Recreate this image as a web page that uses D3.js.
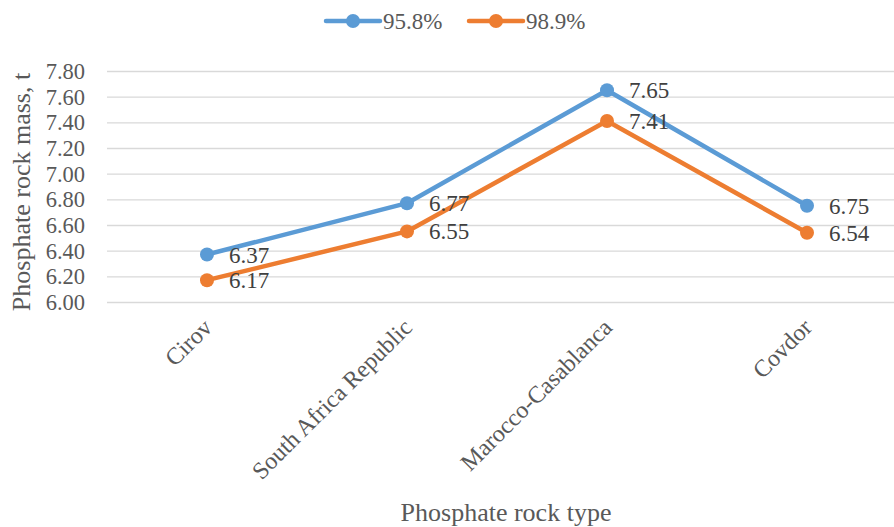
<!DOCTYPE html>
<html>
<head>
<meta charset="utf-8">
<script src="https://cdn.jsdelivr.net/npm/d3@7"></script>
<style>
  html, body { margin: 0; padding: 0; background: #fff; }
  svg { display: block; }
  svg text { font-family: "Liberation Serif", "Times New Roman", serif; }
</style>
</head>
<body>
<svg id="chart" width="894" height="527"></svg>
<script>
// Phosphate rock mass by rock type, for two purity levels
const categories = ["Cirov", "South Africa Republic", "Marocco-Casablanca", "Covdor"];
const seriesNames = ["95.8%", "98.9%"];
const series958 = [6.37, 6.77, 7.65, 6.75];
const series989 = [6.17, 6.55, 7.41, 6.54];
const yTicks = [6.00, 6.20, 6.40, 6.60, 6.80, 7.00, 7.20, 7.40, 7.60, 7.80];
const colors = ["#5B9BD5", "#ED7D31"];

const series = [
  { name: seriesNames[0], values: series958, color: colors[0] },
  { name: seriesNames[1], values: series989, color: colors[1] }
];

const svg = d3.select("#chart");
const plot = { left: 107, right: 907, top: 71, bottom: 302 };
const FONT = "22.5px";

const x = d3.scalePoint().domain(categories).range([plot.left, plot.right]).padding(0.5);
const y = d3.scaleLinear().domain([6.0, 7.8]).range([plot.bottom, plot.top]);

// Horizontal gridlines with tick labels
const yAxis = d3.axisLeft(y).tickValues(yTicks).tickFormat(d3.format(".2f")).tickSize(0).tickPadding(0);
const yg = svg.append("g").attr("transform", `translate(${plot.left},0)`).call(yAxis);
yg.attr("font-family", null).attr("font-size", null);
yg.select(".domain").remove();
yg.selectAll(".tick line").remove();
yg.selectAll(".tick").insert("line", "text")
  .attr("x1", 0).attr("x2", plot.right - plot.left)
  .attr("stroke", "#D9D9D9").attr("stroke-width", 1.3);
yg.selectAll(".tick text")
  .attr("x", -22).attr("dy", "0.33em")
  .attr("fill", "#595959").style("font-size", FONT);

// Category labels, rotated
const xAxis = d3.axisBottom(x).tickSize(0).tickPadding(0);
const xg = svg.append("g").attr("transform", `translate(0,${plot.bottom})`).call(xAxis);
xg.attr("font-family", null).attr("font-size", null);
xg.select(".domain").remove();
xg.selectAll(".tick text")
  .attr("text-anchor", "end")
  .attr("transform", "translate(0,21) rotate(-45)")
  .attr("x", 0).attr("y", 0).attr("dy", "0.35em")
  .attr("fill", "#595959").style("font-size", "24px");

// Lines and markers
const line = d3.line().x((d, i) => x(categories[i])).y(d => y(d));
series.forEach(s => {
  svg.append("path").datum(s.values)
    .attr("d", line).attr("fill", "none")
    .attr("stroke", s.color).attr("stroke-width", 4.5)
    .attr("stroke-linejoin", "round").attr("stroke-linecap", "round");
  svg.append("g").selectAll("circle").data(s.values).join("circle")
    .attr("cx", (d, i) => x(categories[i])).attr("cy", d => y(d))
    .attr("r", 7).attr("fill", s.color);
});

// Value labels to the right of each marker
series.forEach(s => {
  svg.append("g").selectAll("text").data(s.values).join("text")
    .attr("x", (d, i) => x(categories[i]) + 22)
    .attr("y", d => y(d)).attr("dy", "0.35em")
    .attr("fill", "#404040").style("font-size", "23px")
    .text(d => d3.format(".2f")(d));
});

// Legend
const legendItems = [
  { s: series[0], x0: 326 },
  { s: series[1], x0: 469 }
];
legendItems.forEach(({ s, x0 }) => {
  const g = svg.append("g").attr("transform", `translate(${x0},21)`);
  g.append("line").attr("x1", 0).attr("x2", 54)
    .attr("stroke", s.color).attr("stroke-width", 4.5).attr("stroke-linecap", "round");
  g.append("circle").attr("cx", 27).attr("cy", 0).attr("r", 7).attr("fill", s.color);
  g.append("text").attr("x", 57).attr("dy", "0.35em")
    .attr("fill", "#595959").style("font-size", "23px").text(s.name);
});

// Axis titles
svg.append("text")
  .attr("x", 506).attr("y", 521)
  .attr("text-anchor", "middle").attr("fill", "#595959")
  .style("font-size", "26px").text("Phosphate rock type");

svg.append("text")
  .attr("transform", "translate(30,192) rotate(-90)")
  .attr("text-anchor", "middle").attr("fill", "#595959")
  .style("font-size", "26px").text("Phosphate rock mass, t");
</script>
</body>
</html>
